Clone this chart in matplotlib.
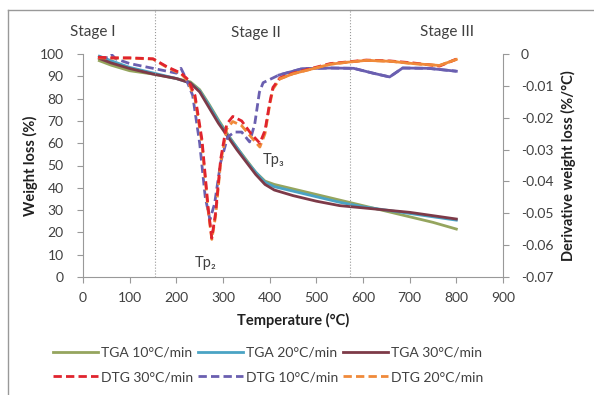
import matplotlib
matplotlib.use("Agg")
import matplotlib.pyplot as plt
from matplotlib.lines import Line2D

plt.rcParams['font.family'] = ['Lato', 'DejaVu Sans']

# TGA data (weight %)
t_tga = [35, 60, 100, 150, 200, 230, 250, 270, 290, 310, 330, 350, 370, 390,
         410, 450, 500, 550, 600, 650, 700, 750, 800]
tga10 = [97, 95, 92.5, 91, 89, 87.5, 84, 77.5, 70.5, 64, 58, 52.5, 47, 43,
         41.5, 39.5, 37, 34.5, 32, 29.5, 27, 24.5, 21.5]
tga20 = [99, 97, 94, 91.5, 89, 87, 83.5, 77, 70, 63.5, 58, 52, 47, 42.5,
         40.5, 38.5, 36, 33.5, 31.5, 30, 28.5, 27, 25.5]
tga30 = [98, 96, 93.5, 91, 89, 87, 83, 76, 69, 63, 57, 51.5, 46, 41.5,
         39, 36.5, 34, 32, 31, 30, 29, 27.5, 26]

# DTG data (%/°C)
t_dtg30 = [32, 60, 100, 150, 180, 210, 225, 240, 255, 268, 276, 284, 295, 308,
           321, 340, 360, 379, 390, 400, 407, 422, 450, 493, 530, 565, 607, 660,
           707, 764, 800]
dtg30 = [-0.001, -0.0012, -0.0012, -0.0015, -0.004, -0.006, -0.008, -0.013,
         -0.027, -0.048, -0.0578, -0.05, -0.033, -0.022, -0.0196, -0.021,
         -0.025, -0.028, -0.024, -0.0154, -0.0105, -0.0075, -0.006, -0.0044,
         -0.003, -0.0025, -0.0019, -0.0022, -0.0028, -0.0038, -0.0016]
t_dtg20 = [32, 60, 100, 150, 180, 210, 225, 240, 255, 268, 276, 284, 295, 308,
           321, 340, 360, 379, 390, 400, 407, 422, 450, 493, 530, 565, 607, 660,
           707, 764, 800]
dtg20 = [-0.0012, -0.0013, -0.0013, -0.0016, -0.0042, -0.0062, -0.0085, -0.014,
         -0.028, -0.049, -0.0582, -0.051, -0.034, -0.0235, -0.0212, -0.0225,
         -0.026, -0.0292, -0.025, -0.016, -0.011, -0.0078, -0.0062, -0.0046,
         -0.0032, -0.0026, -0.002, -0.0023, -0.003, -0.0036, -0.0017]
t_dtg10 = [35, 55, 62, 70, 100, 150, 200, 210, 220, 235, 250, 262, 272, 282,
           295, 310, 325, 340, 357, 368, 378, 386, 420, 470, 530, 580, 621, 657,
           685, 740, 800]
dtg10 = [-0.001, -0.0012, -0.0003, -0.0015, -0.003, -0.0045, -0.006, -0.0045,
         -0.0075, -0.013, -0.028, -0.045, -0.052, -0.047, -0.034, -0.026,
         -0.0245, -0.0245, -0.0276, -0.022, -0.012, -0.009, -0.0066, -0.0046,
         -0.0044, -0.0045, -0.006, -0.0072, -0.0044, -0.0045, -0.0054]

x_ticks = [0, 100, 200, 300, 400, 500, 600, 700, 800, 900]
y_ticks = [0, 10, 20, 30, 40, 50, 60, 70, 80, 90, 100]
y2_ticks = [0, -0.01, -0.02, -0.03, -0.04, -0.05, -0.06, -0.07]
y2_labels = ['0', '-0.01', '-0.02', '-0.03', '-0.04', '-0.05', '-0.06', '-0.07']
stage_x = [154, 572]

c_tga10 = '#95a55e'
c_tga20 = '#4aa3c4'
c_tga30 = '#7d3a48'
c_dtg30 = '#e0242e'
c_dtg10 = '#6a5fb0'
c_dtg20 = '#f08a3a'
txt = '#404040'
dash = (0, (3, 1.5))

fig = plt.figure(figsize=(5.94, 3.95), dpi=100)
ax = fig.add_axes([83 / 594, 1 - 277 / 395, 420 / 594, 223 / 395])
ax2 = ax.twinx()

# chart frame
fig.add_artist(Line2D([8 / 594, 1], [1 - 10 / 395, 1 - 10 / 395], color='#999999', lw=1))
fig.add_artist(Line2D([8 / 594, 8 / 594], [0, 1 - 10 / 395], color='#999999', lw=1))

ax.plot(t_tga, tga10, color=c_tga10, lw=2)
ax.plot(t_tga, tga20, color=c_tga20, lw=2)
ax.plot(t_tga, tga30, color=c_tga30, lw=2)

ax2.plot(t_dtg10, dtg10, color=c_dtg10, lw=2, ls=dash)
ax2.plot(t_dtg10[22:], dtg10[22:], color=c_dtg10, lw=2)
ax2.plot(t_dtg20, dtg20, color=c_dtg20, lw=2, ls=dash)
ax2.plot(t_dtg30, dtg30, color=c_dtg30, lw=2, ls=dash)
ax2.plot(t_dtg20[21:], dtg20[21:], color=c_dtg20, lw=2)

for sx in stage_x:
    ax.plot([sx, sx], [0, 120], color='#999999', lw=0.8, ls=':', clip_on=False)

ax.set_xlim(0, 900)
ax.set_ylim(0, 100)
ax2.set_ylim(-0.07, 0)
ax.set_xticks(x_ticks)
ax.set_yticks(y_ticks)
ax2.set_yticks(y2_ticks)
ax2.set_yticklabels(y2_labels)

for a in (ax, ax2):
    a.spines['top'].set_visible(False)
    for s in ('left', 'right', 'bottom'):
        a.spines[s].set_color('#999999')
    a.tick_params(colors='#999999', labelcolor=txt, labelsize=10, length=4, width=0.8)
ax.tick_params(axis='y', pad=10)
ax.tick_params(axis='x', pad=7)
ax2.tick_params(axis='y', pad=9)
ax.spines['right'].set_visible(False)
ax2.spines['left'].set_visible(False)
ax2.spines['bottom'].set_visible(False)

ax.set_xlabel('Temperature (°C)', fontsize=10.5, fontweight='bold', color='#202020', labelpad=6)
ax.set_ylabel('Weight loss (%)', fontsize=10.5, fontweight='bold', color='#202020', labelpad=1)
ax2.set_ylabel('Derivative weight loss (%/°C)', fontsize=10.5, fontweight='bold',
               color='#202020', labelpad=5)

ax.text(21, 110, 'Stage I', fontsize=11, color=txt, ha='center', va='center', clip_on=False)
ax.text(370, 109.5, 'Stage II', fontsize=11, color=txt, ha='center', va='center', clip_on=False)
ax.text(780, 110, 'Stage III', fontsize=11, color=txt, ha='center', va='center', clip_on=False)
ax.text(262, 6.5, 'Tp₂', fontsize=10.5, color=txt, ha='center', va='center')
ax.text(408, 52.5, 'Tp₃', fontsize=10.5, color=txt, ha='center', va='center')

handles = [
    Line2D([], [], color=c_tga10, lw=2), Line2D([], [], color=c_dtg30, lw=2, ls=dash),
    Line2D([], [], color=c_tga20, lw=2), Line2D([], [], color=c_dtg10, lw=2, ls=dash),
    Line2D([], [], color=c_tga30, lw=2), Line2D([], [], color=c_dtg20, lw=2, ls=dash),
]
labels = ['TGA 10°C/min', 'DTG 30°C/min', 'TGA 20°C/min', 'DTG 10°C/min',
          'TGA 30°C/min', 'DTG 20°C/min']
fig.legend(handles, labels, ncol=3, loc='center', bbox_to_anchor=(268 / 594, 1 - 365 / 395),
           frameon=False, fontsize=10, handlelength=3.3, handletextpad=0.2,
           columnspacing=0.3, labelspacing=0.9, labelcolor=txt)

fig.savefig('out.png', dpi=100)
